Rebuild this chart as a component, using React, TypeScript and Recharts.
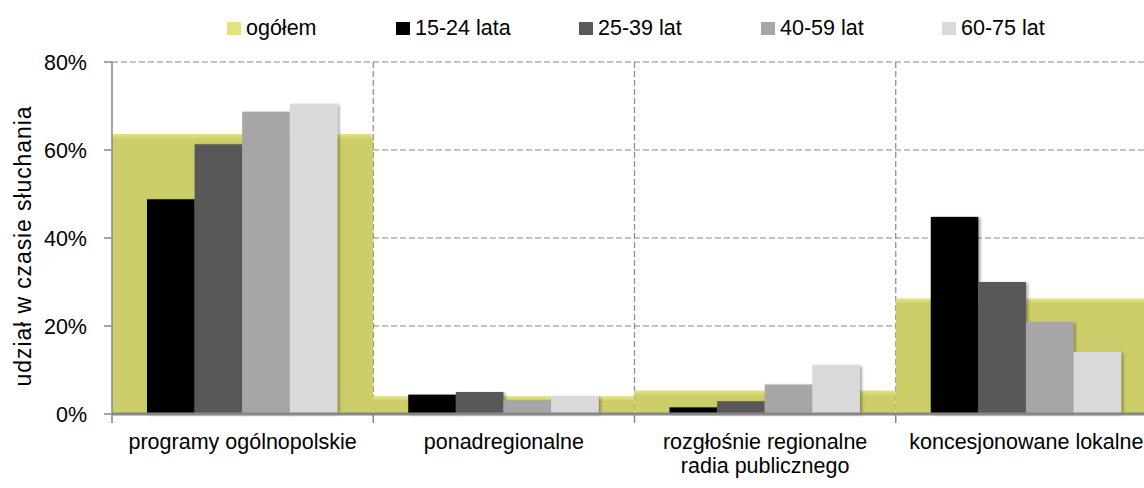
import { BarChart, Bar, XAxis, YAxis, CartesianGrid, Label } from "recharts"

// ─── Data ──────────────────────────────────────────────────────────────────────

const CATEGORIES = [
    "programy ogólnopolskie",
    "ponadregionalne",
    "rozgłośnie regionalne\nradia publicznego",
    "koncesjonowane lokalne",
]

const OGOLEM = [63.6, 4.0, 5.3, 26.2]
const LATA_15_24 = [48.8, 4.4, 1.5, 44.8]
const LAT_25_39 = [61.3, 5.0, 2.9, 30.0]
const LAT_40_59 = [68.7, 3.1, 6.7, 20.9]
const LAT_60_75 = [70.5, 4.1, 11.1, 14.1]

const Y_TICKS = [0, 20, 40, 60, 80]

const DATA = CATEGORIES.map((name, i) => ({
    name,
    ogolem: OGOLEM[i],
    a: LATA_15_24[i],
    b: LAT_25_39[i],
    c: LAT_40_59[i],
    d: LAT_60_75[i],
}))

const SERIES = [
    { key: "a", name: "15-24 lata", color: "#000000" },
    { key: "b", name: "25-39 lat", color: "#595959" },
    { key: "c", name: "40-59 lat", color: "#a6a6a6" },
    { key: "d", name: "60-75 lat", color: "#d9d9d9" },
]

// ─── Layout ────────────────────────────────────────────────────────────────────

const FONT = "'Liberation Sans', Arial, sans-serif"
const CHART_W = 1180
const CHART_H = 488
const MARGIN = { top: 62, right: 23, bottom: 14, left: 0 }
const Y_AXIS_W = 112
const X_AXIS_H = 60
const PLOT_W = CHART_W - MARGIN.left - MARGIN.right - Y_AXIS_W
const AXIS_Y = CHART_H - MARGIN.bottom - X_AXIS_H
const BAND = PLOT_W / CATEGORIES.length
const AXIS_GRAY = "#878787"

// ─── Shapes ────────────────────────────────────────────────────────────────────

function OgolemShape(props: any) {
    const { x, y, width, height } = props
    if (!height || height <= 0) return null
    return (
        <g>
            <rect x={x} y={y} width={width} height={height} fill="#cdcd69" />
            <rect x={x} y={y} width={width} height={Math.min(5, height)} fill="url(#ogolem-top)" />
        </g>
    )
}

function AgeShape(props: any) {
    const { x, y, width, height, fill } = props
    if (!height || height <= 0) return null
    return <rect x={x} y={y} width={width} height={height} fill={fill} filter="url(#bar-shadow)" />
}

function CategoryTick(props: any) {
    const { x, payload } = props
    const lines = String(payload.value).split("\n")
    const half = BAND / 2
    const last = payload.index === CATEGORIES.length - 1
    return (
        <g>
            <line x1={x - half} x2={x - half} y1={AXIS_Y} y2={AXIS_Y + 9} stroke={AXIS_GRAY} strokeWidth={1.5} />
            {last && (
                <line x1={x + half} x2={x + half} y1={AXIS_Y} y2={AXIS_Y + 9} stroke={AXIS_GRAY} strokeWidth={1.5} />
            )}
            <text x={x} y={AXIS_Y + 35} textAnchor="middle" fontSize={21.5} fontFamily={FONT} fill="#000">
                {lines.map((l, i) => (
                    <tspan key={i} x={x} dy={i === 0 ? 0 : 24}>{l}</tspan>
                ))}
            </text>
        </g>
    )
}

function YTitle() {
    return (
        <text
            transform="translate(31, 246) rotate(-90)"
            textAnchor="middle"
            fontSize={23}
            letterSpacing={0.9}
            fontFamily={FONT}
            fill="#000"
        >
            udział w czasie słuchania
        </text>
    )
}

// ─── Legend ────────────────────────────────────────────────────────────────────

const LEGEND_ITEMS = [
    { name: "ogółem", color: "#e2e37f", width: 169 },
    ...SERIES.map((s, i) => ({ name: s.name, color: s.color, width: [183, 182, 181, 120][i] })),
]

function ChartLegend() {
    return (
        <div
            style={{
                position: "absolute",
                top: 14,
                left: 227,
                display: "flex",
                alignItems: "center",
                fontFamily: FONT,
                fontSize: 21.5,
                color: "#000",
                lineHeight: "28px",
            }}
        >
            {LEGEND_ITEMS.map((it) => (
                <div key={it.name} style={{ width: it.width, display: "flex", alignItems: "center" }}>
                    <span style={{ width: 14, height: 13, background: it.color, marginRight: 5, flexShrink: 0 }} />
                    <span>{it.name}</span>
                </div>
            ))}
        </div>
    )
}

// ─── Component ─────────────────────────────────────────────────────────────────

export default function App() {
    return (
        <div
            style={{
                position: "fixed",
                left: 0,
                top: 0,
                width: 1144,
                height: 488,
                overflow: "hidden",
                background: "#fff",
            }}
        >
            <ChartLegend />
            <BarChart
                width={CHART_W}
                height={CHART_H}
                data={DATA}
                margin={MARGIN}
                barGap={0}
                barCategoryGap={0}
            >
                <defs>
                    <linearGradient id="ogolem-top" x1="0" y1="0" x2="0" y2="1">
                        <stop offset="0%" stopColor="#e6e687" />
                        <stop offset="100%" stopColor="#cdcd69" />
                    </linearGradient>
                    <filter id="bar-shadow" x="-10%" y="-10%" width="130%" height="130%">
                        <feDropShadow dx="2" dy="1" stdDeviation="1.5" floodColor="#000" floodOpacity="0.35" />
                    </filter>
                </defs>
                <XAxis
                    xAxisId="main"
                    dataKey="name"
                    height={X_AXIS_H}
                    axisLine={{ stroke: AXIS_GRAY, strokeWidth: 3 }}
                    tickLine={false}
                    tick={CategoryTick}
                    interval={0}
                />
                <XAxis xAxisId="bg" dataKey="name" height={0} hide />
                <YAxis
                    width={Y_AXIS_W}
                    domain={[0, 80]}
                    ticks={Y_TICKS}
                    tickFormatter={(v: number) => `${v}%`}
                    axisLine={{ stroke: AXIS_GRAY, strokeWidth: 1.5 }}
                    tickLine={{ stroke: AXIS_GRAY, strokeWidth: 1.5 }}
                    tickSize={8}
                    tickMargin={17}
                    tick={{ fill: "#000", fontSize: 21.5, fontFamily: FONT }}
                >
                    <Label content={YTitle} />
                </YAxis>
                <Bar
                    xAxisId="bg"
                    dataKey="ogolem"
                    name="ogółem"
                    fill="#cdcd69"
                    shape={OgolemShape}
                    isAnimationActive={false}
                />
                <CartesianGrid
                    xAxisId="main"
                    stroke={AXIS_GRAY}
                    strokeDasharray="6 3"
                    strokeWidth={1.2}
                    horizontalValues={Y_TICKS.slice(1)}
                    verticalCoordinatesGenerator={({ offset }: any) =>
                        CATEGORIES.map((_, i) => offset.left + (i + 1) * BAND)
                    }
                />
                {SERIES.map((s) => (
                    <Bar
                        key={s.key}
                        xAxisId="main"
                        dataKey={s.key}
                        name={s.name}
                        fill={s.color}
                        barSize={47.6}
                        shape={AgeShape}
                        isAnimationActive={false}
                    />
                ))}
            </BarChart>
        </div>
    )
}
